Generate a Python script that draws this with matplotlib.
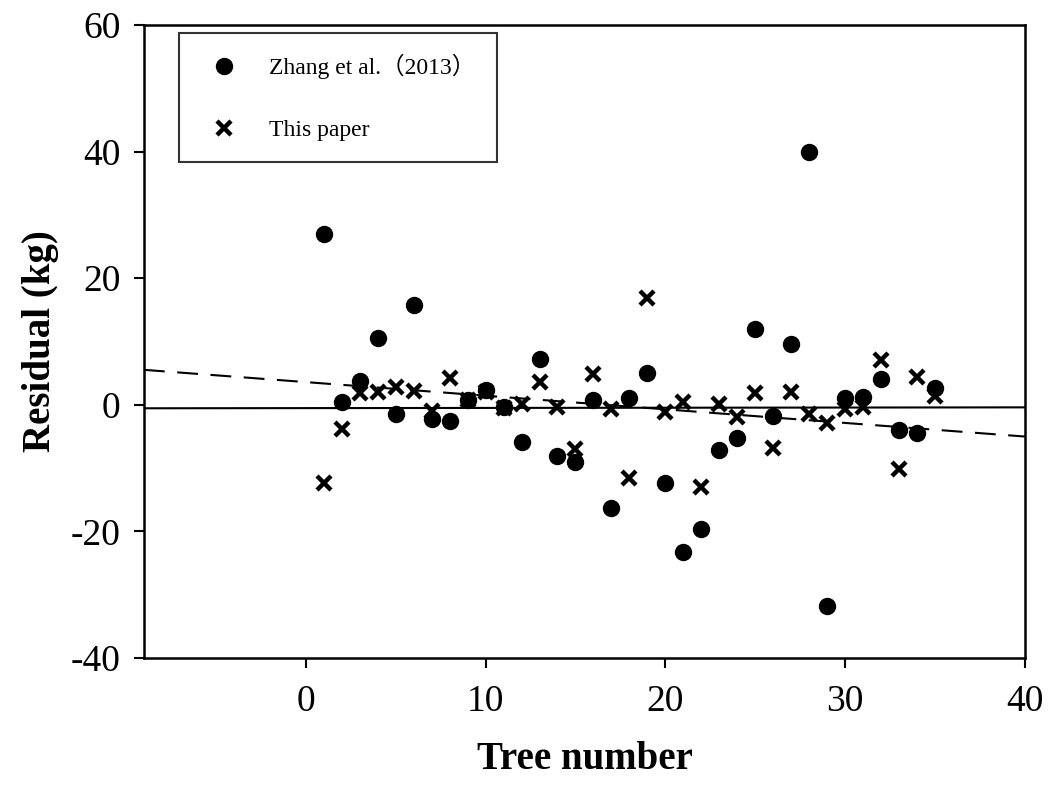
import numpy as np
import matplotlib.pyplot as plt

plt.rcParams['font.family'] = ['Liberation Serif', 'Noto Sans CJK SC', 'DejaVu Sans']
plt.rcParams['axes.unicode_minus'] = False

# tree numbers and residuals
tree = np.arange(1, 36)
zhang = [27.0, 0.5, 3.8, 10.5, -1.5, 15.8, -2.2, -2.6, 0.7, 2.3,
         -0.3, -5.9, 7.3, -8.1, -9.0, 0.7, -16.3, 1.1, 5.1, -12.3,
         -23.3, -19.6, -7.1, -5.3, 12.0, -1.7, 9.6, 40.0, -31.8, 1.0,
         1.3, 4.1, -4.0, -4.5, 2.7]
this_paper = [-12.3, -3.8, 1.8, 2.0, 2.8, 2.2, -1.0, 4.2, 0.8, 2.0,
              -0.5, 0.1, 3.6, -0.3, -7.0, 4.8, -0.6, -11.5, 16.9, -1.1,
              0.5, -13.0, 0.1, -1.9, 1.9, -6.8, 2.1, -1.4, -2.8, -0.7,
              -0.3, 7.0, -10.1, 4.4, 1.4]

fig = plt.figure(figsize=(10.61, 7.86), dpi=100)
ax = fig.add_axes([0.1357, 0.163, 0.8303, 0.805])

ax.plot(tree, zhang, 'o', color='black', markersize=11.5, label='Zhang et al.\uff082013\uff09')
ax.plot(tree, this_paper, 'x', color='black', markersize=10, markeredgewidth=3.2,
        label='This paper')

# linear trends of both residual series
xx = np.array([-9, 40])
k1, b1 = np.polyfit(tree, zhang, 1)
k2, b2 = np.polyfit(tree, this_paper, 1)
ax.plot(xx, k1 * xx + b1, color='black', lw=1.5, dashes=(10, 6))
ax.plot(xx, k2 * xx + b2, color='black', lw=1.5)

ax.set_xlim(-9, 40)
ax.set_ylim(-40, 60)
ax.set_xticks([0, 10, 20, 30, 40])
ax.set_yticks([-40, -20, 0, 20, 40, 60])
ax.tick_params(direction='out', length=7, width=1.5, labelsize=27, pad=10)
ax.tick_params(axis='x', pad=12)
for s in ax.spines.values():
    s.set_linewidth(1.8)

ax.set_xlabel('Tree number', fontsize=28, fontweight='bold', labelpad=16)
ax.set_ylabel('Residual (kg)', fontsize=28, fontweight='bold', labelpad=8)

leg = ax.legend(loc='upper left', bbox_to_anchor=(0.04, 0.988), fontsize=17,
                frameon=True, fancybox=False, edgecolor='black', labelspacing=1.7,
                borderpad=0.9, handletextpad=0.9, borderaxespad=0, handlelength=2.0)
leg.get_frame().set_linewidth(1.5)

fig.savefig('out.png', dpi=100)
